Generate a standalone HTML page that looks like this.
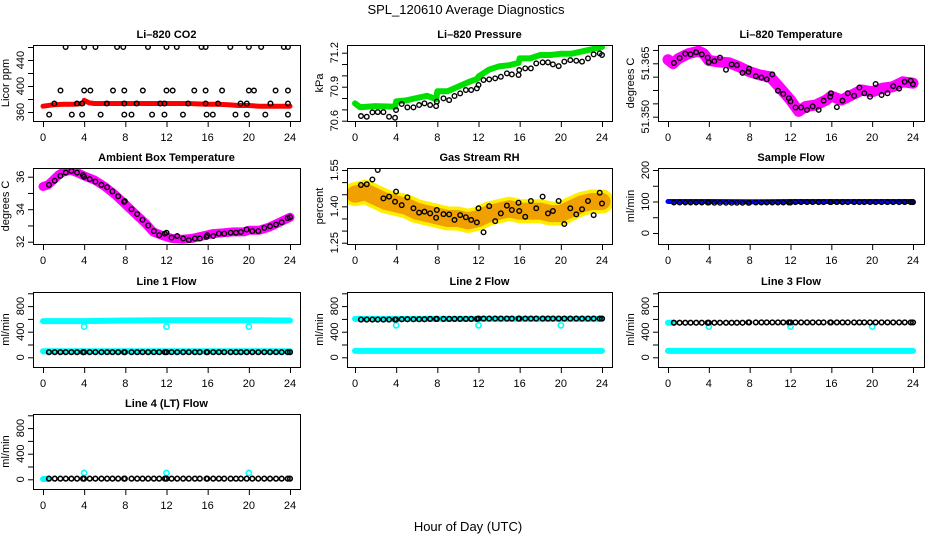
<!DOCTYPE html>
<html><head><meta charset="utf-8">
<style>
html,body{margin:0;padding:0;background:#fff;}
svg{display:block;font-family:"Liberation Sans",Arial,sans-serif;}
.t{font-size:11px;font-weight:bold;text-anchor:middle;}
.tk{font-size:11px;text-anchor:middle;}
</style></head>
<body>
<svg id="chart" width="936" height="540" viewBox="0 0 936 540" xmlns="http://www.w3.org/2000/svg">
<text x="466" y="14" font-size="13" text-anchor="middle">SPL_120610  Average Diagnostics</text>
<text x="468" y="531" font-size="13" text-anchor="middle">Hour of Day (UTC)</text>
</svg>
<script>
const xTicks=[0,4,8,12,16,20,24];
const circleHours=[0.58,1.14,1.69,2.21,2.76,3.31,3.89,3.99,4.54,5.09,5.68,6.23,6.75,7.30,7.88,7.95,8.6,9.15,9.67,10.22,10.77,11.29,11.84,12.0,12.49,13.04,13.62,14.17,14.76,15.24,15.89,15.96,16.54,17.09,17.61,18.23,18.75,19.23,19.79,20.34,20.92,21.5,22.06,22.64,23.19,23.78,24.0];

// CO2
const co2BandHours=[0,1,2,3,3.9,4,4.5,5,6,8,10,12,14,16,17,18,19,20,21,22,23,24];
const co2BandVals=[369,371,372,372,373,378,374,373,373,373,373,373,373,372,372,371,370,370,369,369,369,369];
const co2CircleHours=[2.2,4,5.1,7.2,7.8,10.2,12,13,15.4,15.8,18.2,20,21.2,23.4,23.8, 1.7,4,4.6,6.8,7.9,9.7,12,12.6,14.7,15.8,17.4,20,20.5,22.6,23.8, 1.1,3.3,3.8,6.2,7.9,9.1,11.4,11.8,14.1,15.8,17,19.2,19.8,22.1,23.8, 0.6,2.8,3.8,5.6,7.9,8.6,10.6,11.8,13.6,15.9,16.5,18.7,19.8,21.6,23.8];
const co2CircleVals=[460,460,460,460,460,460,460,460,460,460,460,460,460,460,460, 393,393,393,393,393,393,393,393,393,393,393,393,393,393,393, 373,373,373,373,373,373,373,373,373,373,373,373,373,373,373, 356,356,356,356,356,356,356,356,356,356,356,356,356,356,356];

// Pressure
const presBandHours=[0,0.5,2,3.9,4,5,6,7,7.9,8,9,10,11,11.9,12,13,14,15,15.9,16,17,18,19,20,21,22,23,24];
const presBandVals=[70.753,70.718,70.729,70.723,70.77,70.78,70.80,70.82,70.79,70.86,70.86,70.90,70.94,70.97,70.99,71.05,71.08,71.09,71.11,71.15,71.15,71.18,71.18,71.19,71.19,71.21,71.23,71.25];
const presCircleVals=[70.641,70.635,70.674,70.676,70.676,70.635,70.626,70.694,70.747,70.718,70.718,70.738,70.753,70.738,70.729,70.768,70.797,70.782,70.818,70.841,70.871,70.871,70.885,70.915,70.959,70.965,70.974,70.988,71.018,71.009,71.003,71.047,71.062,71.062,71.106,71.115,71.115,71.097,71.082,71.121,71.135,71.129,71.121,71.15,71.185,71.194,71.18];

// Li-820 temperature
const tempBandHours=[0,0.5,1,2,3,3.5,4,5,6,7,8,9,10,11,12,12.8,13.5,14.5,15.5,16,17,18,19,20,21,22,23,24];
const tempBandVals=[51.3660,51.3649,51.3663,51.3677,51.3684,51.3677,51.3658,51.3654,51.3651,51.3640,51.3626,51.3617,51.3612,51.3580,51.3547,51.3515,51.3529,51.3533,51.3547,51.3558,51.3547,51.3561,51.3575,51.3570,51.3580,51.3584,51.3598,51.3594];
const tempCircleVals=[51.3651,51.3665,51.3677,51.3675,51.3681,51.3675,51.3666,51.3653,51.3656,51.3666,51.3632,51.3647,51.3645,51.3623,51.3626,51.3635,51.3614,51.3610,51.3605,51.3619,51.3573,51.3564,51.3552,51.3543,51.3526,51.3526,51.3519,51.3529,51.3519,51.3545,51.3556,51.3566,51.3527,51.3545,51.3566,51.3559,51.3582,51.3566,51.3556,51.3592,51.3561,51.3566,51.3586,51.3579,51.3598,51.3601,51.3591];

// Ambient box temperature
const ambBandHours=[0,0.5,1,1.5,2,2.7,3.5,4,5,6,7,8,9,10,10.7,11.5,12.5,13.5,14.5,15.5,16.5,17.5,18.5,19.5,20,21,22,23,24];
const ambBandVals=[35.4,35.5,35.8,36.1,36.3,36.4,36.2,36.05,35.8,35.4,34.9,34.3,33.7,33.1,32.6,32.4,32.2,32.15,32.2,32.35,32.5,32.55,32.6,32.6,32.7,32.7,32.9,33.2,33.5];
const ambCircleVals=[35.5,35.75,36.05,36.25,36.35,36.25,36.1,36.0,35.85,35.7,35.5,35.35,35.1,34.8,34.45,34.5,34.0,33.7,33.35,33.0,32.65,32.4,32.5,32.55,32.25,32.35,32.2,32.1,32.2,32.2,32.3,32.4,32.35,32.5,32.5,32.55,32.55,32.6,32.75,32.65,32.65,32.85,32.95,33.05,33.2,33.45,33.5];

// Gas stream RH
const rhBandHours=[0,1,2,3,4,5,6,7,8,9,10,11,12,13,14,15,16,17,18,19,20,21,22,23,24];
const rhBandVals=[1.45,1.46,1.44,1.42,1.41,1.40,1.38,1.37,1.36,1.35,1.35,1.34,1.35,1.37,1.38,1.39,1.38,1.38,1.38,1.37,1.37,1.39,1.41,1.42,1.42];
const rhCircleVals=[1.488,1.491,1.511,1.55,1.433,1.44,1.419,1.461,1.405,1.437,1.392,1.374,1.378,1.371,1.353,1.385,1.368,1.367,1.344,1.364,1.355,1.344,1.334,1.392,1.293,1.401,1.339,1.371,1.403,1.385,1.415,1.381,1.357,1.422,1.392,1.44,1.371,1.381,1.422,1.327,1.392,1.367,1.388,1.422,1.364,1.456,1.412];

// Sample flow
const sampleBandHours=[0,4,8,12,16,20,24];
const sampleBandVals=[100,100,99,100,100,100,100];
const sampleCircleVals=[97,97,97,97,97,97,97,97,96,96,96,96,96,96,96,96,97,97,97,97,97,97,97,97,98,98,98,98,98,98,98,98,98,98,98,98,98,98,98,98,98,98,98,98,98,98,98];

// Line flows
const flowOutlierHours=[4,12,20];
const line1HighHours=[0,4,8,12,16,20,24];
const line1HighVals=[565,565,575,580,580,580,575];
const line1LowHours=[0,24];
const line1LowVals=[95,95];
const line1Outliers=[480,480,480];
const line1CircleVals=[80,80,80,80,80,80,80,80,80,80,80,80,80,80,80,80,80,80,80,80,80,80,80,80,80,80,80,80,80,80,80,80,80,80,80,80,80,80,80,80,80,80,80,80,80,80,80];

const line2HighHours=[0,24];
const line2HighVals=[600,600];
const line2LowHours=[0,24];
const line2LowVals=[100,100];
const line2Outliers=[500,500,500];
const line2CircleVals=[590,590,590,590,590,590,590,590,595,595,595,595,595,600,600,600,600,600,600,600,600,600,600,605,605,605,605,605,605,605,605,605,605,605,605,605,605,605,605,605,605,605,605,605,605,605,605];

const line3HighHours=[0,0.6];
const line3HighVals=[540,540];
const line3LowHours=[0,24];
const line3LowVals=[100,100];
const line3Outliers=[480,480,480];
const line3CircleVals=[540,540,540,540,540,540,540,540,540,540,540,540,540,540,545,545,545,545,545,545,545,545,545,545,545,545,545,545,545,545,545,545,545,545,545,545,545,545,545,545,545,545,545,545,545,545,545];

const line4HighHours=[0,0.5];
const line4HighVals=[5,5];
const line4Outliers=[100,100,100];
const line4CircleVals=[10,10,10,10,10,10,10,10,10,10,10,10,10,10,10,10,10,10,10,10,10,10,10,10,10,10,10,10,10,10,10,10,10,10,10,10,10,10,10,10,10,10,10,10,10,10,10];

const flowTicks=[0,200,400,600,800,1000];
const flowLabels=[0,400,800];

const NS='http://www.w3.org/2000/svg';
const svg=document.getElementById('chart');
const cols=[{l:33,r:300,x0:43,x24:290},{l:347,r:612,x0:355,x24:602},{l:658,r:924,x0:668,x24:913}];
const rows=[{t:45,b:121},{t:168,b:244},{t:292,b:367},{t:414,b:489}];

function mk(tag,attrs,parent){const e=document.createElementNS(NS,tag);for(const k in attrs)e.setAttribute(k,attrs[k]);(parent||svg).appendChild(e);return e;}

function panel(name,ci,ri,title,ylab,yv0,yp0,yv1,yp1,yTicks,yLabels,yLabelText){
  const c=cols[ci],r=rows[ri];
  const g=mk('g',{});
  
  
  const xs=h=>c.x0+(h/24)*(c.x24-c.x0);
  const ys=v=>yp0+(v-yv0)*(yp1-yp0)/(yv1-yv0);
  const clipId='clip-'+name;
  const cp=mk('clipPath',{id:clipId},g);
  mk('rect',{x:c.l,y:r.t,width:c.r-c.l,height:r.b-r.t},cp);
  const plot=mk('g',{'clip-path':'url(#'+clipId+')'},g);
  
  
  const frame=mk('rect',{x:c.l+0.5,y:r.t+0.5,width:c.r-c.l,height:r.b-r.t,fill:'none',stroke:'#000','stroke-width':1},g);
  
  
  const tt=mk('text',{x:(c.l+c.r)/2,y:r.t-7,class:'t'},g);tt.textContent=title;
  
  
  const xa=mk('g',{},g);
  
  
  mk('line',{x1:xs(0),x2:xs(24),y1:r.b+0.5,y2:r.b+0.5,stroke:'#000'},xa);
  xTicks.forEach(t=>{
    mk('line',{x1:xs(t)+0.5,x2:xs(t)+0.5,y1:r.b,y2:r.b+6,stroke:'#000'},xa);
    const tx=mk('text',{x:xs(t),y:r.b+20,class:'tk'},xa);tx.textContent=t;
    
    
  });
  const ya=mk('g',{},g);
  
  
  mk('line',{x1:c.l+0.5,x2:c.l+0.5,y1:ys(yTicks[0]),y2:ys(yTicks[yTicks.length-1]),stroke:'#000'},ya);
  yTicks.forEach(t=>{mk('line',{x1:c.l-5,x2:c.l,y1:ys(t)+0.5,y2:ys(t)+0.5,stroke:'#000'},ya);});
  yLabels.forEach((t,i)=>{
    const y=ys(t),x=c.l-9;
    const tx=mk('text',{x:x,y:y,class:'tk',transform:'rotate(-90 '+x+' '+y+')'},ya);
    tx.textContent=yLabelText?yLabelText[i]:t;
    
    
  });
  const yl=mk('text',{x:c.l-24,y:(r.t+r.b)/2,'font-size':11,'text-anchor':'middle',transform:'rotate(-90 '+(c.l-24)+' '+((r.t+r.b)/2)+')'},g);
  yl.textContent=ylab;
  
  
  return {plot,xs,ys};
}
function band(p,name,hours,vals,color,w,op){
  const pts=hours.map((h,i)=>p.xs(h).toFixed(1)+','+p.ys(vals[i]).toFixed(1)).join(' ');
  const e=mk('polyline',{points:pts,fill:'none',stroke:color,'stroke-width':w,'stroke-linejoin':'round','stroke-linecap':'round',opacity:op||1},p.plot);
  
  
}
function circles(p,name,hours,vals,color,rad,sw){
  const g=mk('g',{},p.plot);
  
  
  hours.forEach((h,i)=>{
    const c=mk('circle',{cx:p.xs(h),cy:p.ys(vals[i]),r:rad||2.3,fill:'none',stroke:color,'stroke-width':sw||1.4},g);
    
    
  });
}

let p=panel('co2',0,0,'Li\u2013820 CO2','Licor ppm',360,112,440,60,[360,380,400,420,440,460],[360,400,440]);
band(p,'co2-band',co2BandHours,co2BandVals,'#ff0000',5);
circles(p,'co2-points',co2CircleHours,co2CircleVals,'#000');

p=panel('pressure',1,0,'Li\u2013820 Pressure','kPa',70.6,120.7,71.2,52.7,[70.6,70.7,70.8,70.9,71.0,71.1,71.2],[70.6,70.9,71.2],['70.6','70.9','71.2']);
band(p,'pressure-band',presBandHours,presBandVals,'#00e000',6);
circles(p,'pressure-points',circleHours,presCircleVals,'#000');

p=panel('li820-temp',2,0,'Li\u2013820 Temperature','degrees C',51.35,116.7,51.365,63.3,[51.35,51.35375,51.3575,51.36125,51.365,51.36875],[51.35,51.365],['51.350','51.365']);
band(p,'li820-temp-band',tempBandHours,tempBandVals,'#ff00ff',11);
circles(p,'li820-temp-points',circleHours,tempCircleVals,'#000');

p=panel('ambient-temp',0,1,'Ambient Box Temperature','degrees C',32,241.7,36,176.7,[32,33,34,35,36],[32,34,36]);
band(p,'ambient-temp-band',ambBandHours,ambBandVals,'#ff00ff',9);
circles(p,'ambient-temp-points',circleHours,ambCircleVals,'#000');

p=panel('gas-rh',1,1,'Gas Stream RH','percent',1.25,242.7,1.55,170,[1.25,1.30,1.35,1.40,1.45,1.50,1.55],[1.25,1.40,1.55],['1.25','1.40','1.55']);
band(p,'gas-rh-band-outer',rhBandHours,rhBandVals,'#ffee00',24);
band(p,'gas-rh-band-inner',rhBandHours,rhBandVals,'#f0a000',17);
circles(p,'gas-rh-points',circleHours,rhCircleVals,'#000');

p=panel('sample-flow',2,1,'Sample Flow','ml/min',0,233,200,170,[0,50,100,150,200],[0,100,200]);
band(p,'sample-flow-band',sampleBandHours,sampleBandVals,'#0000ff',5);
circles(p,'sample-flow-points',circleHours,sampleCircleVals,'#000');

function flowPanel(name,ci,ri,title,hiH,hiV,loH,loV,outV,circV){
  const r=rows[ri];
  const p=panel(name,ci,ri,title,'ml/min',0,r.b-9.7,1000,r.t+1.3,flowTicks,flowLabels);
  band(p,name+'-high-band',hiH,hiV,'#00ffff',6);
  if(loH)band(p,name+'-low-band',loH,loV,'#00ffff',6);
  circles(p,name+'-outliers',flowOutlierHours,outV,'#00ffff',2.6,1.6);
  circles(p,name+'-points',circleHours,circV,'#000',2.3,1.6);
}
flowPanel('line1-flow',0,2,'Line 1 Flow',line1HighHours,line1HighVals,line1LowHours,line1LowVals,line1Outliers,line1CircleVals);
flowPanel('line2-flow',1,2,'Line 2 Flow',line2HighHours,line2HighVals,line2LowHours,line2LowVals,line2Outliers,line2CircleVals);
flowPanel('line3-flow',2,2,'Line 3 Flow',line3HighHours,line3HighVals,line3LowHours,line3LowVals,line3Outliers,line3CircleVals);
flowPanel('line4-flow',0,3,'Line 4 (LT) Flow',line4HighHours,line4HighVals,null,null,line4Outliers,line4CircleVals);
</script>
</body></html>
